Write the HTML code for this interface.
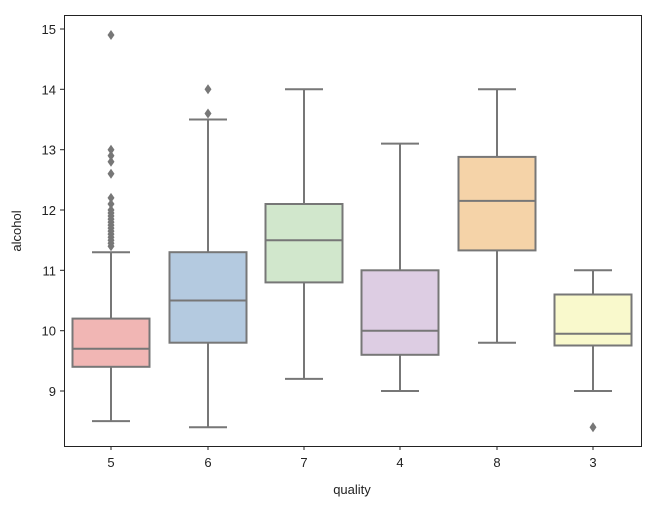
<!DOCTYPE html><html><head><style>body{margin:0;background:#fff}svg{font-family:"Liberation Sans","DejaVu Sans",sans-serif}</style></head><body>
<svg width="660" height="511" xmlns="http://www.w3.org/2000/svg" xmlns:xlink="http://www.w3.org/1999/xlink">
<defs><polygon id="d" points="0,-5 3.5,0 0,5 -3.5,0" fill="#777"/></defs>
<rect x="64.5" y="15.5" width="577" height="431" fill="none" stroke="#222"/>
<g stroke="#222">
<line x1="60" x2="64" y1="391" y2="391"/><line x1="60" x2="64" y1="330.7" y2="330.7"/><line x1="60" x2="64" y1="270.3" y2="270.3"/><line x1="60" x2="64" y1="210" y2="210"/><line x1="60" x2="64" y1="149.7" y2="149.7"/><line x1="60" x2="64" y1="89.3" y2="89.3"/><line x1="60" x2="64" y1="29" y2="29"/>
<line x1="111" x2="111" y1="446" y2="450"/><line x1="208" x2="208" y1="446" y2="450"/><line x1="304" x2="304" y1="446" y2="450"/><line x1="400" x2="400" y1="446" y2="450"/><line x1="497" x2="497" y1="446" y2="450"/><line x1="593" x2="593" y1="446" y2="450"/>
</g>
<g font-size="13" fill="#222" text-anchor="end">
<text x="56" y="396">9</text><text x="56" y="335.7">10</text><text x="56" y="275.3">11</text><text x="56" y="215">12</text><text x="56" y="154.7">13</text><text x="56" y="94.3">14</text><text x="56" y="34">15</text>
</g>
<g font-size="13" fill="#222" text-anchor="middle">
<text x="111" y="467">5</text><text x="208" y="467">6</text><text x="304" y="467">7</text><text x="400" y="467">4</text><text x="497" y="467">8</text><text x="593" y="467">3</text>
<text x="352" y="494">quality</text><text transform="translate(21,231) rotate(-90)">alcohol</text>
</g>
<g stroke="#777" stroke-width="2">
<!-- 5 -->
<line x1="111" x2="111" y1="421.1" y2="366.8"/><line x1="111" x2="111" y1="318.6" y2="252.2"/>
<line x1="92" x2="130" y1="421.1" y2="421.1"/><line x1="92" x2="130" y1="252.2" y2="252.2"/>
<rect x="72.5" y="318.6" width="77" height="48.2" fill="#f1b6b4"/><line x1="72.5" x2="149.5" y1="348.7" y2="348.7"/>
<!-- 6 -->
<line x1="208" x2="208" y1="427.2" y2="342.7"/><line x1="208" x2="208" y1="252.2" y2="119.5"/>
<line x1="189" x2="227" y1="427.2" y2="427.2"/><line x1="189" x2="227" y1="119.5" y2="119.5"/>
<rect x="169.5" y="252.2" width="77" height="90.5" fill="#b4cae0"/><line x1="169.5" x2="246.5" y1="300.5" y2="300.5"/>
<!-- 7 -->
<line x1="304" x2="304" y1="378.9" y2="282.4"/><line x1="304" x2="304" y1="204" y2="89.3"/>
<line x1="285" x2="323" y1="378.9" y2="378.9"/><line x1="285" x2="323" y1="89.3" y2="89.3"/>
<rect x="265.5" y="204" width="77" height="78.4" fill="#d1e7cc"/><line x1="265.5" x2="342.5" y1="240.2" y2="240.2"/>
<!-- 4 -->
<line x1="400" x2="400" y1="391" y2="354.8"/><line x1="400" x2="400" y1="270.3" y2="143.6"/>
<line x1="381" x2="419" y1="391" y2="391"/><line x1="381" x2="419" y1="143.6" y2="143.6"/>
<rect x="361.5" y="270.3" width="77" height="84.5" fill="#ddcde3"/><line x1="361.5" x2="438.5" y1="330.7" y2="330.7"/>
<!-- 8 -->
<line x1="497" x2="497" y1="342.7" y2="250.4"/><line x1="497" x2="497" y1="156.9" y2="89.3"/>
<line x1="478" x2="516" y1="342.7" y2="342.7"/><line x1="478" x2="516" y1="89.3" y2="89.3"/>
<rect x="458.5" y="156.9" width="77" height="93.5" fill="#f5d3a8"/><line x1="458.5" x2="535.5" y1="200.9" y2="200.9"/>
<!-- 3 -->
<line x1="593" x2="593" y1="391" y2="345.5"/><line x1="593" x2="593" y1="294.5" y2="270.3"/>
<line x1="574" x2="612" y1="391" y2="391"/><line x1="574" x2="612" y1="270.3" y2="270.3"/>
<rect x="554.5" y="294.5" width="77" height="51" fill="#f9f9cc"/><line x1="554.5" x2="631.5" y1="333.7" y2="333.7"/>
</g>
<g>
<use xlink:href="#d" x="111" y="246.2"/><use xlink:href="#d" x="111" y="243.2"/><use xlink:href="#d" x="111" y="240.2"/><use xlink:href="#d" x="111" y="237.2"/><use xlink:href="#d" x="111" y="234.1"/><use xlink:href="#d" x="111" y="231.1"/><use xlink:href="#d" x="111" y="228.1"/><use xlink:href="#d" x="111" y="225.1"/><use xlink:href="#d" x="111" y="222.1"/><use xlink:href="#d" x="111" y="219.1"/><use xlink:href="#d" x="111" y="216"/><use xlink:href="#d" x="111" y="213"/><use xlink:href="#d" x="111" y="210"/><use xlink:href="#d" x="111" y="204"/><use xlink:href="#d" x="111" y="197.9"/><use xlink:href="#d" x="111" y="173.8"/><use xlink:href="#d" x="111" y="161.7"/><use xlink:href="#d" x="111" y="155.7"/><use xlink:href="#d" x="111" y="149.7"/><use xlink:href="#d" x="111" y="35"/>
<use xlink:href="#d" x="208" y="113.5"/><use xlink:href="#d" x="208" y="89.3"/>
<use xlink:href="#d" x="593" y="427.2"/>
</g>
</svg></body></html>
